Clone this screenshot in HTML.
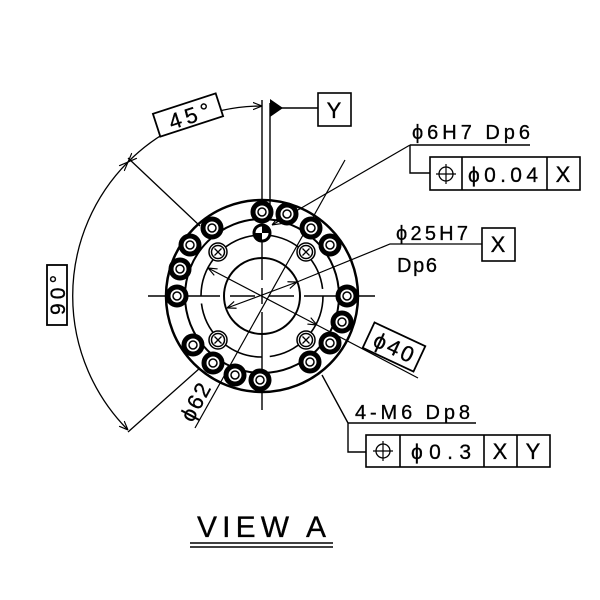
<!DOCTYPE html>
<html><head><style>
html,body{margin:0;padding:0;background:#fff;}
svg{display:block;}
text{font-family:"Liberation Sans",sans-serif;fill:#000;stroke:#000;stroke-width:0.3;}
</style></head><body>
<svg width="600" height="600" viewBox="0 0 600 600" xmlns="http://www.w3.org/2000/svg">
<defs>
<marker id="a" viewBox="0 0 10 10" refX="10" refY="5" markerWidth="9" markerHeight="9" orient="auto-start-reverse" markerUnits="userSpaceOnUse"><path d="M0,1 L10,5 L0,9" fill="none" stroke="#000" stroke-width="1.3"/></marker>
<g id="bolt"><circle r="9" fill="#fff" stroke="#000" stroke-width="5"/><circle r="4" fill="none" stroke="#000" stroke-width="1.5"/></g>
<g id="xh"><circle r="9" fill="#fff" stroke="#000" stroke-width="1.5"/><circle r="6.5" fill="none" stroke="#000" stroke-width="1.5"/><path d="M-3.5,-3.5L3.5,3.5M3.5,-3.5L-3.5,3.5" stroke="#000" stroke-width="1.3"/></g>
</defs>
<g fill="none" stroke="#000">
<circle cx="262" cy="296" r="96" stroke-width="2.5"/>
<circle cx="262" cy="296" r="77" stroke-width="2"/>
<circle cx="262" cy="296" r="61" stroke-width="1.6" stroke-dasharray="40 8"/>
<circle cx="262" cy="296" r="38" stroke-width="2"/>
<path d="M262,100V215 M262,228V280 M262,288V304 M262,312V410" stroke-width="1.4"/>
<path d="M148,296H220 M230,296H255 M269,296H294 M304,296H375" stroke-width="1.4"/>
<path d="M270,103V215" stroke-width="1.4"/>
<path d="M276,108H318" stroke-width="1.4"/>
<path d="M128,158L200,226 M128,432L200,368" stroke-width="1.3"/>
<path d="M262,106 A190,190 0 0 0 128,162" stroke-width="1.3" marker-start="url(#a)" marker-end="url(#a)"/>
<path d="M128,162 A190,190 0 0 0 128,430" stroke-width="1.3" marker-start="url(#a)" marker-end="url(#a)"/>
<path d="M208,268L317,325" stroke-width="1.2" marker-start="url(#a)" marker-end="url(#a)"/>
<path d="M317,325L418,378" stroke-width="1.2"/>
<path d="M227,308L297,282" stroke-width="1.2" marker-start="url(#a)" marker-end="url(#a)"/>
<path d="M297,282L390,244H482" stroke-width="1.2"/>
<path d="M195,428L345,160" stroke-width="1.2"/>
<path d="M410,145L272,225" stroke-width="1.2" marker-end="url(#a)"/>
<path d="M410,145H530 M410,145V173H430" stroke-width="1.4"/>
<path d="M322,375L348,423H476 M348,423V452H366" stroke-width="1.4"/>
<rect x="318" y="93" width="33" height="33" stroke-width="1.6"/>
<rect x="430" y="157" width="150" height="33" stroke-width="1.6"/>
<path d="M462,157V190M547,157V190" stroke-width="1.6"/>
<rect x="482" y="228" width="33" height="33" stroke-width="1.6"/>
<rect x="366" y="435" width="184" height="32" stroke-width="1.6"/>
<path d="M400,435V467M484,435V467M517,435V467" stroke-width="1.6"/>
<circle cx="446" cy="174" r="7" stroke-width="1.3"/><path d="M436,174H456M446,164V184" stroke-width="1.2"/>
<circle cx="383" cy="451" r="7" stroke-width="1.3"/><path d="M373,451H393M383,441V461" stroke-width="1.2"/>
<path d="M190,543H333M190,547H333" stroke-width="1.5"/>
</g>
<path d="M270,99L283,108L270,117Z" fill="#000"/>
<circle cx="262" cy="233" r="8" fill="#fff" stroke="#000" stroke-width="3"/>
<path d="M254,233A8,8 0 0 0 262,241V233Z M262,233H270A8,8 0 0 0 262,225Z" fill="#000"/>
<use href="#bolt" x="262" y="212"/><use href="#bolt" x="287" y="214"/><use href="#bolt" x="311" y="228"/><use href="#bolt" x="330" y="245"/>
<use href="#bolt" x="347" y="296"/><use href="#bolt" x="342" y="322"/><use href="#bolt" x="330" y="343"/><use href="#bolt" x="310" y="362"/>
<use href="#bolt" x="260" y="380"/><use href="#bolt" x="235" y="375"/><use href="#bolt" x="213" y="363"/><use href="#bolt" x="193" y="345"/>
<use href="#bolt" x="177" y="296"/><use href="#bolt" x="180" y="269"/><use href="#bolt" x="190" y="245"/><use href="#bolt" x="212" y="228"/>
<use href="#xh" x="218" y="252"/><use href="#xh" x="306" y="252"/><use href="#xh" x="218" y="340"/><use href="#xh" x="306" y="340"/>
<g transform="translate(188,115) rotate(-18)"><rect x="-33" y="-12" width="66" height="24" fill="#fff" stroke="#000" stroke-width="1.8"/><text x="-20" y="9" font-size="22" textLength="42" lengthAdjust="spacing">45°</text></g>
<g transform="translate(57,295) rotate(-90)"><rect x="-30" y="-10" width="60" height="20" fill="#fff" stroke="#000" stroke-width="1.8"/><text x="-20" y="8" font-size="21" textLength="40" lengthAdjust="spacing">90°</text></g>
<g transform="translate(394,347) rotate(25)"><rect x="-28" y="-14" width="56" height="28" fill="#fff" stroke="#000" stroke-width="1.8"/><text x="-21" y="8" font-size="22" textLength="42" lengthAdjust="spacing">ϕ40</text></g>
<g transform="translate(195,402) rotate(-62)"><text x="-20" y="8" font-size="22" textLength="40" lengthAdjust="spacing">ϕ62</text></g>
<text x="334" y="118" font-size="22" text-anchor="middle">Y</text>
<text x="412" y="139" font-size="20" textLength="118" lengthAdjust="spacing">ϕ6H7 Dp6</text>
<text x="468" y="182" font-size="21" textLength="70" lengthAdjust="spacing">ϕ0.04</text>
<text x="563" y="182" font-size="22" text-anchor="middle">X</text>
<text x="396" y="240" font-size="20" textLength="72" lengthAdjust="spacing">ϕ25H7</text>
<text x="397" y="272" font-size="20" textLength="40" lengthAdjust="spacing">Dp6</text>
<text x="498" y="252" font-size="22" text-anchor="middle">X</text>
<text x="355" y="419" font-size="20" textLength="115" lengthAdjust="spacing">4-M6 Dp8</text>
<text x="411" y="459" font-size="21" textLength="60" lengthAdjust="spacing">ϕ0.3</text>
<text x="500" y="459" font-size="22" text-anchor="middle">X</text>
<text x="533" y="459" font-size="22" text-anchor="middle">Y</text>
<text x="197" y="537" font-size="30" textLength="129" lengthAdjust="spacing">VIEW A</text>
</svg>
</body></html>
